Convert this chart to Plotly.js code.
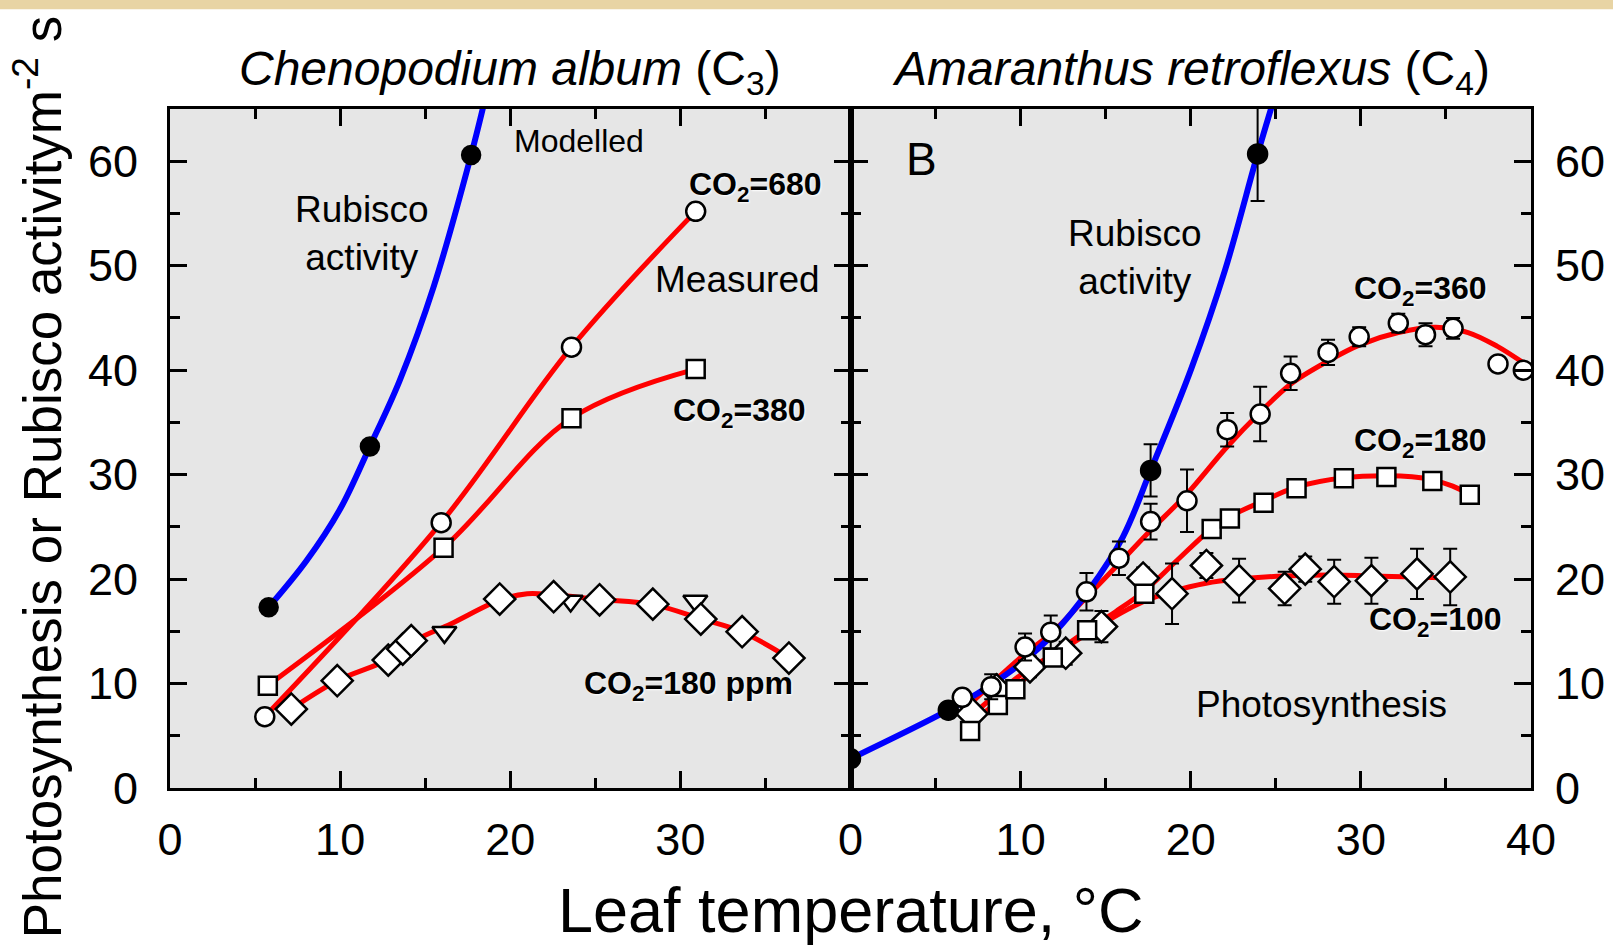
<!DOCTYPE html>
<html>
<head>
<meta charset="utf-8">
<script src="https://cdn.plot.ly/plotly-3.0.1.min.js"></script>
<style>
  html, body { margin: 0; padding: 0; background: #ffffff; }
  #chart { width: 1613px; height: 951px; }
</style>
</head>
<body>
<div id="chart"></div>
<script>
// ---------- Left panel: Chenopodium album (C3) ----------
const c3RubiscoX = [5.8, 11.75, 17.7];
const c3RubiscoY = [17.3, 32.7, 60.6];
const c3RubiscoCurveX = [5.8, 8.0, 10.0, 11.75, 13.5, 15.5, 17.7, 18.6];
const c3RubiscoCurveY = [17.3, 21.7, 26.7, 32.7, 39.0, 48.0, 60.6, 66.5];

const c3Co2_680X = [5.57, 15.94, 23.6, 30.9];
const c3Co2_680Y = [6.82, 25.4, 42.2, 55.2];

const c3Co2_380X = [5.75, 16.08, 23.6, 30.9];
const c3Co2_380Y = [9.8, 23.0, 35.4, 40.1];

const c3Co2_180DiamondX = [7.13, 9.83, 12.83, 13.68, 14.18, 19.38, 22.55, 25.25, 28.38, 31.2, 33.63, 36.38];
const c3Co2_180DiamondY = [7.56, 10.27, 12.25, 13.3, 14.1, 18.09, 18.31, 18.02, 17.6, 16.17, 14.96, 12.44];
const c3Co2_180TriangleX = [16.13, 23.55, 30.88];
const c3Co2_180TriangleY = [14.9, 17.9, 17.9];
const c3Co2_180CurveX = [7.13, 9.83, 12.83, 14.5, 16.5, 19.4, 21.0, 22.5, 25.25, 28.4, 31.2, 33.6, 36.4];
const c3Co2_180CurveY = [7.56, 10.27, 12.3, 14.2, 15.7, 18.0, 18.6, 18.5, 18.05, 17.55, 16.2, 14.96, 12.44];

// ---------- Right panel: Amaranthus retroflexus (C4) ----------
const c4RubiscoX = [0.0, 5.75, 17.64, 23.93];
const c4RubiscoY = [2.8, 7.45, 30.4, 60.7];
const c4RubiscoErr = [NaN, NaN, 2.5, 4.5];
const c4RubiscoCurveX = [0.0, 5.75, 8.0, 10.0, 12.0, 14.0, 16.0, 17.64, 20.0, 22.0, 23.93, 24.9];
const c4RubiscoCurveY = [2.8, 7.45, 9.6, 11.9, 14.9, 18.9, 24.0, 30.4, 40.0, 49.5, 60.7, 66.0];

const c4Co2_360X = [6.57, 8.27, 10.26, 11.77, 13.87, 15.78, 17.64, 19.78, 22.14, 24.08, 25.87, 28.07, 29.9, 32.2, 33.8, 35.42, 38.06, 39.55];
const c4Co2_360Y = [8.68, 9.7, 13.5, 14.92, 18.78, 22.0, 25.5, 27.5, 34.3, 35.8, 39.7, 41.7, 43.2, 44.5, 43.4, 44.0, 40.6, 40.0];
const c4Co2_360Err = [NaN, 1.2, 1.3, 1.6, 1.8, 1.6, 1.7, 3.0, 1.6, 2.6, 1.6, 1.2, 0.9, 0.9, 1.1, 1.0, NaN, NaN];
const c4Co2_360CurveX = [7.0, 8.3, 10.3, 11.8, 13.9, 15.8, 17.6, 19.8, 22.1, 24.1, 25.9, 28.1, 29.9, 32.2, 34.4, 36.3, 38.0, 40.0];
const c4Co2_360CurveY = [8.0, 10.0, 12.9, 14.8, 18.3, 21.5, 24.6, 28.2, 32.6, 36.0, 38.7, 40.9, 42.4, 43.6, 44.1, 43.6, 42.3, 40.2];

const c4Co2_180X = [7.03, 8.66, 9.69, 11.89, 13.91, 17.27, 21.23, 22.3, 24.28, 26.22, 29.0, 31.5, 34.2, 36.4];
const c4Co2_180Y = [5.46, 7.95, 9.45, 12.5, 15.1, 18.6, 24.8, 25.8, 27.3, 28.7, 29.66, 29.76, 29.4, 28.07];
const c4Co2_180CurveX = [7.0, 8.7, 9.7, 11.9, 13.9, 15.6, 17.3, 19.2, 21.2, 22.3, 24.3, 26.2, 29.0, 31.5, 33.0, 34.2, 35.4, 36.4];
const c4Co2_180CurveY = [6.1, 8.3, 9.7, 12.7, 15.1, 16.9, 18.9, 21.8, 24.8, 26.0, 27.5, 28.8, 29.7, 29.9, 29.8, 29.5, 28.9, 28.1];

const c4Co2_100X = [7.14, 8.58, 10.55, 12.65, 14.75, 17.2, 18.9, 20.92, 22.84, 25.52, 26.73, 28.43, 30.62, 33.3, 35.25];
const c4Co2_100Y = [7.1, 9.4, 11.6, 12.9, 15.45, 20.1, 18.6, 21.3, 19.85, 19.1, 20.95, 19.75, 19.85, 20.5, 20.2];
const c4Co2_100Err = [NaN, 0.9, 1.0, 1.1, 1.5, 1.0, 2.9, 1.2, 2.1, 1.6, 1.2, 2.1, 2.2, 2.4, 2.7];
const c4Co2_100CurveX = [7.1, 8.6, 10.5, 12.6, 14.7, 16.3, 17.3, 18.9, 20.9, 22.8, 25.5, 28.4, 30.6, 33.2, 35.2];
const c4Co2_100CurveY = [6.9, 9.0, 11.4, 13.4, 15.6, 17.1, 17.9, 18.8, 19.6, 20.0, 20.3, 20.4, 20.3, 20.2, 20.1];

// ---------- Axis ticks ----------
const leftXTicks = [0, 10, 20, 30];
const rightXTicks = [0, 10, 20, 30, 40];
const yTicks = [0, 10, 20, 30, 40, 50, 60];

// ---------- Styles ----------
const FONT = 'Liberation Sans, Arial, sans-serif';
const RED = '#ff0000';
const BLUE = '#0000ff';

function curve(x, y, color, width, xa, ya) {
  return { x: x, y: y, xaxis: xa, yaxis: ya, mode: 'lines', type: 'scatter',
    line: { color: color, width: width, shape: 'spline', smoothing: 1.0 },
    hoverinfo: 'skip', showlegend: false };
}
function pts(x, y, symbol, size, fill, xa, ya, err) {
  const t = { x: x, y: y, xaxis: xa, yaxis: ya, mode: 'markers', type: 'scatter',
    marker: { symbol: symbol, size: size, color: fill, line: { color: '#000000', width: 2.5 } },
    showlegend: false };
  if (err) {
    t.error_y = { type: 'data', array: err, visible: true, color: '#000000', thickness: 2, width: 7 };
  }
  return t;
}

const data = [
  // left panel curves
  curve(c3Co2_680X, c3Co2_680Y, RED, 5, 'x', 'y'),
  curve(c3Co2_380X, c3Co2_380Y, RED, 5, 'x', 'y'),
  curve(c3Co2_180CurveX, c3Co2_180CurveY, RED, 5, 'x', 'y'),
  curve(c3RubiscoCurveX, c3RubiscoCurveY, BLUE, 6, 'x', 'y'),
  // left panel points
  pts(c3RubiscoX, c3RubiscoY, 'circle', 18, '#000000', 'x', 'y'),
  pts(c3Co2_680X, c3Co2_680Y, 'circle', 19, '#ffffff', 'x', 'y'),
  pts(c3Co2_380X, c3Co2_380Y, 'square', 18, '#ffffff', 'x', 'y'),
  pts(c3Co2_180TriangleX, c3Co2_180TriangleY, 'triangle-down', 21, '#ffffff', 'x', 'y'),
  pts(c3Co2_180DiamondX, c3Co2_180DiamondY, 'diamond', 24, '#ffffff', 'x', 'y'),
  // right panel curves
  curve(c4Co2_100CurveX, c4Co2_100CurveY, RED, 5, 'x2', 'y2'),
  curve(c4Co2_180CurveX, c4Co2_180CurveY, RED, 5, 'x2', 'y2'),
  curve(c4Co2_360CurveX, c4Co2_360CurveY, RED, 5, 'x2', 'y2'),
  curve(c4RubiscoCurveX, c4RubiscoCurveY, BLUE, 6, 'x2', 'y2'),
  // right panel points
  pts(c4Co2_100X, c4Co2_100Y, 'diamond', 24, '#ffffff', 'x2', 'y2', c4Co2_100Err),
  pts(c4Co2_180X, c4Co2_180Y, 'square', 18, '#ffffff', 'x2', 'y2'),
  pts(c4Co2_360X, c4Co2_360Y, 'circle', 19, '#ffffff', 'x2', 'y2', c4Co2_360Err),
  pts(c4RubiscoX, c4RubiscoY, 'circle', 19, '#000000', 'x2', 'y2', c4RubiscoErr)
];

const tickFont = { family: FONT, size: 45, color: '#000000' };
function xAxis(domain, tickvals, anchor) {
  return {
    domain: domain, range: [0, 40], anchor: anchor,
    tickmode: 'array', tickvals: tickvals, ticktext: tickvals.map(String),
    ticks: 'inside', ticklen: 17, tickwidth: 3, tickcolor: '#000000',
    minor: { dtick: 5, ticks: 'inside', ticklen: 10, tickwidth: 3, tickcolor: '#000000' },
    showline: true, linewidth: 3, linecolor: '#000000', mirror: 'ticks',
    showgrid: false, zeroline: false, tickfont: tickFont, ticklabelstandoff: 10,
    fixedrange: true
  };
}
function yAxis(anchor, side, standoff) {
  return {
    range: [0, 65], anchor: anchor, side: side,
    tickmode: 'array', tickvals: yTicks, ticktext: yTicks.map(String),
    ticks: 'inside', ticklen: 17, tickwidth: 3, tickcolor: '#000000',
    minor: { dtick: 5, ticks: 'inside', ticklen: 10, tickwidth: 3, tickcolor: '#000000' },
    showline: true, linewidth: 3, linecolor: '#000000', mirror: 'ticks',
    showgrid: false, zeroline: false, tickfont: tickFont, ticklabelstandoff: standoff,
    fixedrange: true
  };
}

const labelFont = { family: FONT, size: 37, color: '#000000' };
const co2Font = { family: FONT, size: 32, color: '#000000', weight: 'bold', shadow: '1px 1px 2px #ffffff' };
const titleFont = { family: FONT, size: 48, color: '#000000' };

function ann(text, x, y, xref, yref, font, extra) {
  return Object.assign({ text: text, x: x, y: y, xref: xref, yref: yref, showarrow: false,
    xanchor: 'center', yanchor: 'middle', font: font }, extra || {});
}

const annotations = [
  // panel titles
  ann('<i>Chenopodium album</i> (C<sub>3</sub>)', 20, 1.0, 'x', 'paper', titleFont, { yanchor: 'bottom', yshift: 5 }),
  ann('<i>Amaranthus retroflexus</i> (C<sub>4</sub>)', 20, 1.0, 'x2', 'paper', titleFont, { yanchor: 'bottom', yshift: 5 }),
  // left panel
  ann('Modelled', 24.05, 61.9, 'x', 'y', { family: FONT, size: 32, color: '#000' }),
  ann('Rubisco<br>activity', 11.3, 53.1, 'x', 'y', labelFont),
  ann('Measured', 33.35, 48.7, 'x', 'y', labelFont),
  ann('CO<sub>2</sub>=680', 34.4, 57.6, 'x', 'y', co2Font),
  ann('CO<sub>2</sub>=380', 33.5, 35.9, 'x', 'y', co2Font),
  ann('CO<sub>2</sub>=180 ppm', 30.45, 9.85, 'x', 'y', co2Font),
  // right panel
  ann('B', 4.17, 60.2, 'x2', 'y2', { family: FONT, size: 46, color: '#000' }),
  ann('Rubisco<br>activity', 16.74, 50.8, 'x2', 'y2', labelFont),
  ann('CO<sub>2</sub>=360', 33.5, 47.6, 'x2', 'y2', co2Font),
  ann('CO<sub>2</sub>=180', 33.5, 33.1, 'x2', 'y2', co2Font),
  ann('CO<sub>2</sub>=100', 34.4, 15.9, 'x2', 'y2', co2Font),
  ann('Photosynthesis', 27.7, 8.0, 'x2', 'y2', labelFont),
  // axis titles
  ann('Photosynthesis or Rubisco activitym<sup>-2</sup> s', -0.0975, 0.458, 'paper', 'paper',
      { family: FONT, size: 53, color: '#000' }, { textangle: -90 }),
  ann('Leaf temperature, °C', 0.5, -0.18, 'paper', 'paper',
      { family: FONT, size: 63, color: '#000' })
];

const layout = {
  width: 1613, height: 951,
  margin: { l: 170, r: 82, t: 109, b: 163, pad: 0 },
  paper_bgcolor: '#ffffff',
  plot_bgcolor: '#e6e6e6',
  showlegend: false,
  font: { family: FONT, color: '#000000' },
  xaxis: xAxis([0, 0.5], leftXTicks, 'y'),
  xaxis2: xAxis([0.5, 1], rightXTicks, 'y2'),
  yaxis: yAxis('x', 'left', 20),
  yaxis2: yAxis('x2', 'right', 12),
  annotations: annotations,
  shapes: [
    { type: 'rect', xref: 'paper', yref: 'paper', x0: -0.2, x1: 1.1, y0: 1.147, y1: 1.2,
      fillcolor: '#e8d4a4', line: { width: 0 }, layer: 'below' }
  ]
};

Plotly.newPlot('chart', data, layout, { displayModeBar: false, staticPlot: true });
</script>
</body>
</html>
